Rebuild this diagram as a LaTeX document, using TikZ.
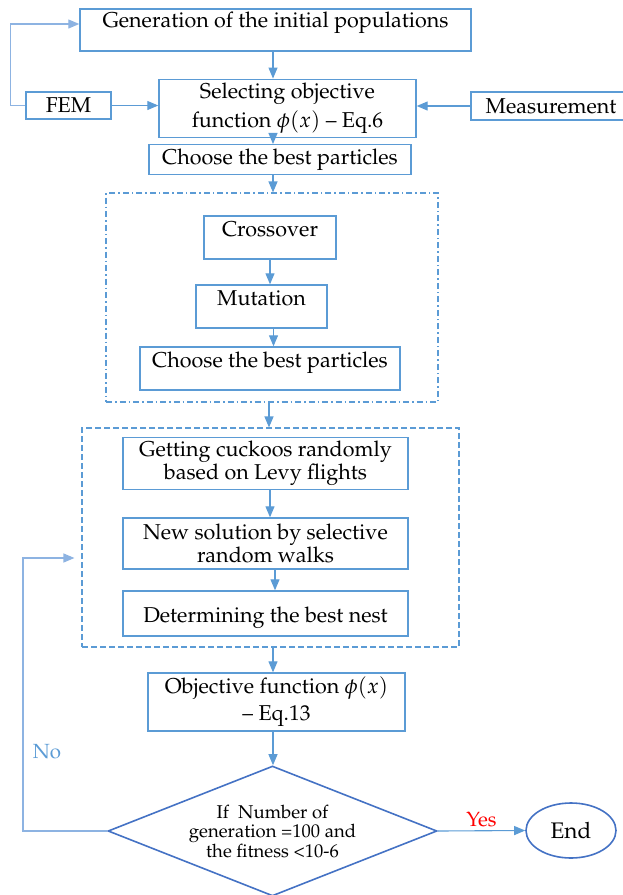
\documentclass[tikz,border=0pt]{standalone}
\usepackage[T1]{fontenc}
\usepackage{mathpazo}
\usetikzlibrary{shapes.geometric,arrows.meta}
\definecolor{boxblue}{HTML}{5B9BD5}
\definecolor{deepblue}{HTML}{4472C4}
\definecolor{loopblue}{HTML}{8DB3E2}
\tikzset{
  box/.style={draw=boxblue, line width=1.4pt, align=center, inner xsep=3pt, inner ysep=4pt, font=\fontsize{21.5}{21}\selectfont},
  frame/.style={draw=boxblue, line width=1.1pt},
  flow/.style={draw=boxblue, line width=1.1pt, -{Triangle[length=11pt,width=9pt]}},
}
\begin{document}
\begin{tikzpicture}[x=1pt,y=-1pt]
    \useasboundingbox (0,0) rectangle (622,895);
    \coordinate (spine) at (273,0);

    % top part
    \node[box, minimum width=391pt, minimum height=42pt, text height=14pt, text depth=20pt] (gen) at (275.5,30) {Generation of the initial populations};
    \node[box, minimum width=85pt, minimum height=27pt] (fem) at (68.5,105.5) {FEM};
    \node[box, minimum width=257pt, minimum height=51pt] (sel) at (287.5,108.5) {Selecting objective\\[5pt] function $\phi(x)$ -- Eq.6};
    \node[box, minimum width=160pt, minimum height=28pt] (meas) at (551,106) {Measurement};
    \node[box, minimum width=262pt, minimum height=25pt] (best) at (280,159.5) {Choose the best particles};

    % genetic block
    \node[frame, dash pattern=on 6pt off 3pt on 1.5pt off 3pt, minimum width=332pt, minimum height=209pt] (gaframe) at (272,297.5) {};
    \node[box, minimum width=132pt, minimum height=43pt, text height=16pt, text depth=19pt] (cross) at (270,237.5) {Crossover};
    \node[box, minimum width=131pt, minimum height=43pt, text height=16pt, text depth=19pt] (mut) at (261.5,306.5) {Mutation};
    \node[box, minimum width=260pt, minimum height=43pt, text height=16pt, text depth=19pt] (gabest) at (270,368.5) {Choose the best particles};

    % cuckoo block
    \node[frame, dash pattern=on 6pt off 3pt, minimum width=377pt, minimum height=219pt] (csframe) at (270.5,537.5) {};
    \node[box, minimum width=285pt, minimum height=51pt] (levy) at (265.5,463.5) {Getting cuckoos randomly\\based on Levy flights};
    \node[box, minimum width=285pt, minimum height=51pt] (walk) at (265.5,543.5) {New solution by selective\\random walks};
    \node[box, minimum width=285pt, minimum height=45pt, text height=27pt, text depth=10pt] (nest) at (265.5,613.5) {Determining the best nest};

    % bottom part
    \node[box, minimum width=257pt, minimum height=50pt] (obj) at (276.5,702) {Objective function $\phi(x)$\\[6pt] -- Eq.13};
    \node[diamond, draw=deepblue, line width=1.6pt, aspect=2.53, inner sep=0pt, minimum width=329pt, minimum height=130pt, align=center, font=\fontsize{18.5}{19.5}\selectfont] (check) at (272.5,831) {If\ \ Number of\\generation =100 and\\the fitness <10-6};
    \node[ellipse, draw=deepblue, line width=1.6pt, minimum width=90pt, minimum height=55pt, font=\fontsize{22.5}{22}\selectfont] (stop) at (571,830.5) {End};
    \coordinate (noturn) at (23,558);

    % arrows
    \draw[flow] (spine |- gen.south) -- (spine |- sel.north);
    \draw[flow, draw=loopblue] (fem.west) -- ++(-15,0) |- ([yshift=6pt]gen.west);
    \draw[flow] (fem.east) -- (fem.east -| sel.west);
    \draw[flow] (meas.west) -- (meas.west -| sel.east);
    \draw[flow] (spine |- sel.south) -- (spine |- best.north);
    \draw[flow] (spine |- best.south) -- (spine |- gaframe.north);
    \draw[flow] (cross.south) -- (cross.south |- mut.north);
    \draw[flow] ([xshift=12pt]mut.south) -- ([xshift=12pt]mut.south |- gabest.north);
    \draw[flow] ([xshift=-3pt]gaframe.south) -- ([xshift=-3pt]gaframe.south |- csframe.north);
    \draw[flow] ([xshift=4.5pt]levy.south) -- ([xshift=4.5pt]levy.south |- walk.north);
    \draw[flow] ([xshift=9.5pt]walk.south) -- ([xshift=9.5pt]walk.south |- nest.north);
    \draw[flow] (spine |- csframe.south) -- (spine |- obj.north);
    \draw[flow] (spine |- obj.south) -- (spine |- check.north);
    \draw[flow] (check.east) -- (stop.west) node[midway, above, text=red, font=\fontsize{20.5}{20}\selectfont] {Yes};
    \draw[flow, draw=loopblue] (check.west) -| (noturn) -- ([xshift=-7pt,yshift=-20.5pt]csframe.west);
    \node[text=boxblue, font=\fontsize{20.5}{20}\selectfont] (nolabel) at (47,752) {No};

\end{tikzpicture}
\end{document}
